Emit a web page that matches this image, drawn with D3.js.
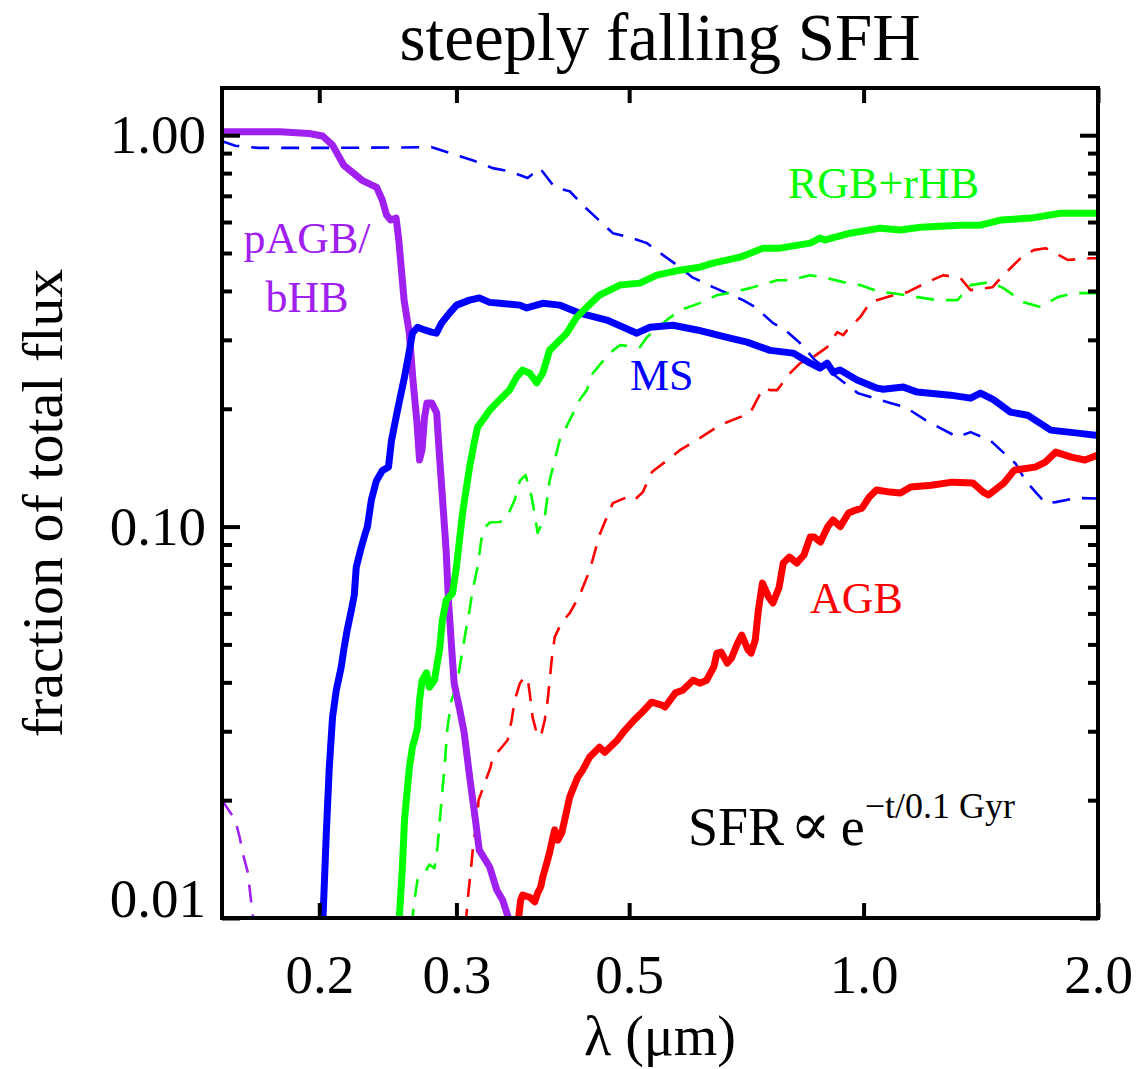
<!DOCTYPE html>
<html>
<head>
<meta charset="utf-8">
<script src="https://cdn.jsdelivr.net/npm/d3@7"></script>
<style>
	body { margin: 0; background: #fff; }
	text { font-family: "Liberation Serif", "DejaVu Serif", serif; }
</style>
</head>
<body>
<svg id="chart" width="1140" height="1069"></svg>
<script>
// [wavelength (um), fraction of total flux]
var pagbSolid = [[0.150,1.02],[0.178,1.02],[0.194,1.01],[0.202,0.995],[0.208,0.943],[0.215,0.838],[0.227,0.767],[0.237,0.736],[0.241,0.682],[0.244,0.625],[0.247,0.607],[0.251,0.614],[0.253,0.54],[0.255,0.452],[0.257,0.379],[0.261,0.312],[0.264,0.233],[0.267,0.184],[0.269,0.148],[0.271,0.157],[0.273,0.19],[0.275,0.207],[0.279,0.207],[0.283,0.195],[0.285,0.157],[0.288,0.117],[0.291,0.087],[0.293,0.065],[0.296,0.048],[0.298,0.0398],[0.303,0.034],[0.307,0.0297],[0.312,0.0229],[0.317,0.0181],[0.321,0.0149],[0.331,0.0135],[0.338,0.0118],[0.344,0.0111],[0.351,0.0098]];
var pagbDashed = [[0.150,0.0200],[0.156,0.0178],[0.158,0.0161],[0.160,0.0143],[0.162,0.0130],[0.164,0.0104],[0.165,0.0096]];

var msSolid = [[0.2020,0.0095],[0.2042,0.0165],[0.2060,0.0243],[0.208,0.0326],[0.2103,0.0382],[0.2134,0.0438],[0.215,0.0484],[0.2172,0.0544],[0.2199,0.0612],[0.2218,0.0668],[0.2231,0.0788],[0.2265,0.0887],[0.2292,0.0963],[0.2306,0.100],[0.2333,0.117],[0.2368,0.131],[0.241,0.139],[0.2454,0.142],[0.2476,0.166],[0.252,0.198],[0.2573,0.241],[0.2611,0.282],[0.2634,0.312],[0.2674,0.323],[0.273,0.318],[0.2787,0.314],[0.2828,0.312],[0.2871,0.331],[0.2939,0.351],[0.3001,0.368],[0.3119,0.379],[0.321,0.384],[0.331,0.374],[0.341,0.372],[0.362,0.368],[0.3693,0.362],[0.3872,0.372],[0.407,0.368],[0.432,0.351],[0.468,0.337],[0.5115,0.312],[0.5316,0.323],[0.569,0.327],[0.611,0.318],[0.6736,0.303],[0.7085,0.296],[0.7584,0.282],[0.8119,0.2775],[0.8539,0.2616],[0.879,0.254],[0.898,0.2616],[0.914,0.248],[0.933,0.2512],[0.981,0.237],[1.041,0.2258],[1.06,0.2244],[1.125,0.2272],[1.172,0.2206],[1.293,0.2167],[1.372,0.2129],[1.413,0.2193],[1.468,0.211],[1.544,0.1961],[1.624,0.1926],[1.739,0.1764],[1.883,0.1733],[2.0,0.1709]];
var msDashed = [[0.150,0.965],[0.156,0.94],[0.167,0.928],[0.200,0.928],[0.250,0.930],[0.279,0.932],[0.300,0.889],[0.3147,0.863],[0.3339,0.824],[0.351,0.809],[0.3703,0.777],[0.384,0.824],[0.4012,0.736],[0.4194,0.719],[0.4385,0.655],[0.4543,0.614],[0.4764,0.562],[0.500,0.549],[0.5269,0.530],[0.548,0.500],[0.581,0.460],[0.602,0.434],[0.6407,0.409],[0.700,0.379],[0.7255,0.364],[0.7652,0.331],[0.7929,0.318],[0.829,0.294],[0.8666,0.266],[0.961,0.227],[0.984,0.219],[1.082,0.207],[1.131,0.202],[1.201,0.187],[1.255,0.1785],[1.32,0.1693],[1.372,0.1743],[1.455,0.166],[1.499,0.157],[1.567,0.145],[1.614,0.131],[1.663,0.1225],[1.713,0.1148],[1.765,0.1155],[1.872,0.1183],[2.0,0.118]];

var rgbSolid = [[0.2530,0.0095],[0.2557,0.0135],[0.2573,0.0178],[0.2596,0.0216],[0.2611,0.0243],[0.2634,0.0273],[0.265,0.0285],[0.2674,0.0307],[0.269,0.036],[0.2711,0.0405],[0.2746,0.0423],[0.277,0.0389],[0.2811,0.0405],[0.2854,0.0484],[0.2878,0.0577],[0.2911,0.0649],[0.2966,0.0676],[0.300,0.0788],[0.3055,0.1083],[0.3091,0.1262],[0.3119,0.1419],[0.3166,0.166],[0.3194,0.1795],[0.3261,0.190],[0.331,0.1984],[0.341,0.211],[0.351,0.2232],[0.3585,0.241],[0.3649,0.251],[0.3726,0.2466],[0.3803,0.233],[0.3872,0.2466],[0.3952,0.2824],[0.3988,0.2874],[0.4157,0.312],[0.4282,0.3428],[0.4411,0.3637],[0.458,0.3902],[0.4864,0.414],[0.516,0.4188],[0.5427,0.4389],[0.581,0.452],[0.616,0.46],[0.6407,0.471],[0.694,0.488],[0.7429,0.5145],[0.781,0.5145],[0.854,0.530],[0.879,0.5458],[0.8927,0.540],[0.961,0.5618],[1.051,0.5787],[1.115,0.5725],[1.183,0.582],[1.332,0.589],[1.413,0.589],[1.499,0.607],[1.64,0.614],[1.791,0.632],[2.0,0.632]];
var rgbDashed = [[0.2627,0.0095],[0.265,0.0111],[0.2674,0.0125],[0.273,0.013],[0.277,0.0137],[0.2811,0.0134],[0.2837,0.0152],[0.2871,0.020],[0.2896,0.0243],[0.2922,0.0307],[0.2957,0.036],[0.300,0.0389],[0.303,0.0438],[0.3055,0.0484],[0.3091,0.0554],[0.3119,0.0612],[0.3147,0.0688],[0.3194,0.0788],[0.3242,0.098],[0.331,0.1024],[0.341,0.1027],[0.348,0.1051],[0.3564,0.117],[0.362,0.131],[0.3681,0.1354],[0.3748,0.119],[0.3815,0.0963],[0.3895,0.1057],[0.3952,0.131],[0.407,0.166],[0.4194,0.187],[0.432,0.211],[0.4411,0.2232],[0.449,0.2466],[0.4722,0.2775],[0.4864,0.2908],[0.516,0.2874],[0.5269,0.3048],[0.5589,0.337],[0.581,0.3573],[0.616,0.3723],[0.6483,0.3902],[0.6798,0.3972],[0.7148,0.4067],[0.7744,0.426],[0.8047,0.426],[0.854,0.4389],[0.898,0.4313],[0.9416,0.4213],[0.990,0.414],[1.051,0.3972],[1.092,0.3948],[1.172,0.3857],[1.244,0.379],[1.32,0.379],[1.372,0.414],[1.455,0.4213],[1.512,0.4067],[1.605,0.3744],[1.688,0.3637],[1.775,0.3857],[1.861,0.3948],[2.0,0.3948]];

var agbSolid = [[0.3595,0.0095],[0.3627,0.0111],[0.3649,0.01145],[0.3726,0.0113],[0.3781,0.011],[0.3815,0.0116],[0.3849,0.012],[0.3872,0.0127],[0.3918,0.0138],[0.3952,0.0147],[0.3988,0.016],[0.4012,0.0168],[0.4048,0.0158],[0.4096,0.0165],[0.4132,0.0178],[0.4194,0.0204],[0.4295,0.0229],[0.4359,0.0239],[0.445,0.0258],[0.458,0.0273],[0.4652,0.0265],[0.483,0.0285],[0.4918,0.0299],[0.5071,0.032],[0.523,0.034],[0.5342,0.0356],[0.5508,0.035],[0.556,0.0346],[0.5733,0.0376],[0.5858,0.0382],[0.604,0.0405],[0.617,0.0398],[0.6286,0.0405],[0.6422,0.0438],[0.6481,0.0475],[0.656,0.0478],[0.6682,0.0448],[0.6765,0.0461],[0.689,0.0504],[0.6975,0.0528],[0.7106,0.0484],[0.717,0.0475],[0.7259,0.0513],[0.7326,0.0612],[0.7416,0.0717],[0.7553,0.066],[0.7648,0.0638],[0.779,0.070],[0.7885,0.0807],[0.8031,0.0836],[0.8207,0.0807],[0.8383,0.0846],[0.8539,0.094],[0.8643,0.094],[0.8803,0.0913],[0.8996,0.100],[0.9136,0.104],[0.9333,0.100],[0.9565,0.1083],[0.9772,0.1102],[0.9953,0.1115],[1.017,0.119],[1.0389,0.124],[1.0813,0.1225],[1.115,0.1218],[1.1493,0.1262],[1.2218,0.1276],[1.2994,0.1299],[1.3813,0.1293],[1.4246,0.1225],[1.4467,0.1204],[1.5142,0.1293],[1.5617,0.1394],[1.6604,0.1419],[1.7119,0.1462],[1.7654,0.155],[1.8486,0.1505],[1.9235,0.148],[2.0,0.1523]];
var agbDashed = [[0.3082,0.0095],[0.3101,0.0111],[0.3137,0.0138],[0.3156,0.0158],[0.3184,0.0171],[0.3203,0.020],[0.3319,0.0243],[0.3339,0.0258],[0.341,0.0269],[0.3491,0.0285],[0.3532,0.032],[0.3564,0.036],[0.362,0.0398],[0.367,0.0413],[0.3703,0.041],[0.3726,0.0376],[0.3758,0.0326],[0.3803,0.0297],[0.3849,0.029],[0.3895,0.032],[0.3929,0.036],[0.3976,0.0456],[0.4012,0.0522],[0.4096,0.057],[0.4194,0.0601],[0.432,0.0668],[0.445,0.0774],[0.458,0.0951],[0.468,0.1057],[0.4764,0.1148],[0.4976,0.119],[0.5025,0.119],[0.5081,0.117],[0.5206,0.1225],[0.5347,0.1378],[0.5558,0.1462],[0.581,0.1568],[0.616,0.1683],[0.654,0.1817],[0.7148,0.195],[0.7429,0.2258],[0.7584,0.2232],[0.7744,0.2232],[0.8047,0.2466],[0.829,0.2616],[0.8615,0.271],[0.898,0.2874],[0.925,0.314],[0.9416,0.3084],[0.9527,0.3177],[0.990,0.3428],[1.0199,0.3744],[1.092,0.3902],[1.1383,0.3972],[1.2077,0.4213],[1.2663,0.4389],[1.332,0.4313],[1.372,0.4019],[1.4641,0.409],[1.512,0.4389],[1.591,0.485],[1.653,0.5085],[1.713,0.5145],[1.754,0.5024],[1.828,0.48],[1.957,0.485],[2.0,0.485]];

var xTicks = [0.2, 0.3, 0.5, 1.0, 2.0];
var xTickLabels = ['0.2', '0.3', '0.5', '1.0', '2.0'];
var yMajor = [0.01, 0.1, 1];
var yTickLabels = ['0.01', '0.10', '1.00'];
var yMinor = [0.02,0.03,0.04,0.05,0.06,0.07,0.08,0.09,0.2,0.3,0.4,0.5,0.6,0.7,0.8,0.9];

(function () {
	var PURPLE = '#a020f0', BLUE = '#0000ff', GREEN = '#00ff00', RED = '#ff0000';

	var series = [
		{ data: pagbDashed, color: PURPLE, dash: true },
		{ data: msDashed, color: BLUE, dash: true },
		{ data: rgbDashed, color: GREEN, dash: true },
		{ data: agbDashed, color: RED, dash: true },
		{ data: pagbSolid, color: PURPLE, dash: false },
		{ data: msSolid, color: BLUE, dash: false },
		{ data: rgbSolid, color: GREEN, dash: false },
		{ data: agbSolid, color: RED, dash: false }
	];

	// plot box in pixels ("top" is taken by window.top, so prefixed names)
	var pL = 222, pR = 1098, pT = 88, pB = 918;

	var svg = d3.select('#chart');

	var x = d3.scaleLog().domain([0.15, 2.0]).range([pL, pR]),
		y = d3.scaleLog().domain([0.01, 1.32]).range([pB, pT]);

	svg.append('clipPath').attr('id', 'plotclip')
		.append('rect')
		.attr('x', pL).attr('y', pT)
		.attr('width', pR - pL).attr('height', pB - pT);

	var line = d3.line()
		.x(function (d) { return x(d[0]); })
		.y(function (d) { return y(d[1]); });

	svg.append('g')
		.attr('clip-path', 'url(#plotclip)')
		.selectAll('path')
		.data(series)
		.enter()
		.append('path')
		.attr('d', function (d) { return line(d.data); })
		.attr('fill', 'none')
		.attr('stroke', function (d) { return d.color; })
		.attr('stroke-width', function (d) { return d.dash ? 2.6 : 7; })
		.attr('stroke-dasharray', function (d) { return d.dash ? '18,12' : null; })
		.attr('stroke-linejoin', 'round');

	// axes, ticks pointing into the plot
	var fmtY = function (d) { return yTickLabels[yMajor.indexOf(d)]; },
		fmtX = function (d) { return xTickLabels[xTicks.indexOf(d)]; };

	var styleAxis = function (g) {
		g.select('.domain').remove();
		g.selectAll('.tick line').attr('stroke', '#000').attr('stroke-width', 4);
		g.selectAll('.tick text')
			.attr('fill', '#000')
			.style('font-family', '"Liberation Serif", "DejaVu Serif", serif')
			.style('font-size', '55px');
	};

	svg.append('g').attr('transform', 'translate(' + pL + ',0)')
		.call(d3.axisLeft(y).tickValues(yMajor).tickSizeInner(-18).tickSizeOuter(0).tickPadding(16).tickFormat(fmtY))
		.call(styleAxis)
		.call(function (g) {
			g.selectAll('.tick text').filter(function (d) { return d === 0.01; }).attr('dy', '-0.02em');
		});

	svg.append('g').attr('transform', 'translate(' + pL + ',0)')
		.call(d3.axisLeft(y).tickValues(yMinor).tickSizeInner(-10).tickSizeOuter(0).tickFormat(''))
		.call(styleAxis);

	svg.append('g').attr('transform', 'translate(' + pR + ',0)')
		.call(d3.axisRight(y).tickValues(yMajor).tickSizeInner(-18).tickSizeOuter(0).tickFormat(''))
		.call(styleAxis);

	svg.append('g').attr('transform', 'translate(' + pR + ',0)')
		.call(d3.axisRight(y).tickValues(yMinor).tickSizeInner(-10).tickSizeOuter(0).tickFormat(''))
		.call(styleAxis);

	svg.append('g').attr('transform', 'translate(0,' + pB + ')')
		.call(d3.axisBottom(x).tickValues(xTicks).tickSizeInner(-15).tickSizeOuter(0).tickPadding(36).tickFormat(fmtX))
		.call(styleAxis);

	svg.append('g').attr('transform', 'translate(0,' + pT + ')')
		.call(d3.axisTop(x).tickValues(xTicks).tickSizeInner(-15).tickSizeOuter(0).tickFormat(''))
		.call(styleAxis);

	svg.append('rect')
		.attr('x', pL).attr('y', pT)
		.attr('width', pR - pL).attr('height', pB - pT)
		.attr('fill', 'none').attr('stroke', '#000').attr('stroke-width', 4);

	// titles
	svg.append('text')
		.attr('x', (pL + pR) / 2).attr('y', 60)
		.attr('text-anchor', 'middle')
		.style('font-size', '67px')
		.text('steeply falling SFH');

	svg.append('text')
		.attr('x', (pL + pR) / 2).attr('y', 1055)
		.attr('text-anchor', 'middle')
		.style('font-size', '56px')
		.text('λ (μm)');

	svg.append('text')
		.attr('transform', 'translate(62,' + (pT + pB) / 2 + ') rotate(-90)')
		.attr('text-anchor', 'middle')
		.style('font-size', '58px')
		.text('fraction of total flux');

	// curve labels
	var labels = [
		{ t: 'pAGB/', x: 307, y: 253, c: PURPLE, a: 'middle' },
		{ t: 'bHB', x: 307, y: 312, c: PURPLE, a: 'middle' },
		{ t: 'RGB+rHB', x: 788, y: 198, c: GREEN, a: 'start' },
		{ t: 'MS', x: 630, y: 390, c: BLUE, a: 'start' },
		{ t: 'AGB', x: 810, y: 613, c: RED, a: 'start' }
	];

	svg.selectAll('.lbl')
		.data(labels)
		.enter()
		.append('text')
		.attr('class', 'lbl')
		.attr('x', function (d) { return d.x; })
		.attr('y', function (d) { return d.y; })
		.attr('text-anchor', function (d) { return d.a; })
		.attr('fill', function (d) { return d.c; })
		.style('font-size', '44px')
		.text(function (d) { return d.t; });

	var sfr = svg.append('text')
		.attr('x', 688).attr('y', 845)
		.style('font-size', '54px');
	sfr.append('tspan').text('SFR');
	sfr.append('tspan').attr('dx', 6).style('font-size', '60px').text('∝');
	sfr.append('tspan').attr('dx', 10).text('e');
	sfr.append('tspan').attr('dy', -27).style('font-size', '36px').text('−t/0.1 Gyr');
})();
</script>
</body>
</html>
